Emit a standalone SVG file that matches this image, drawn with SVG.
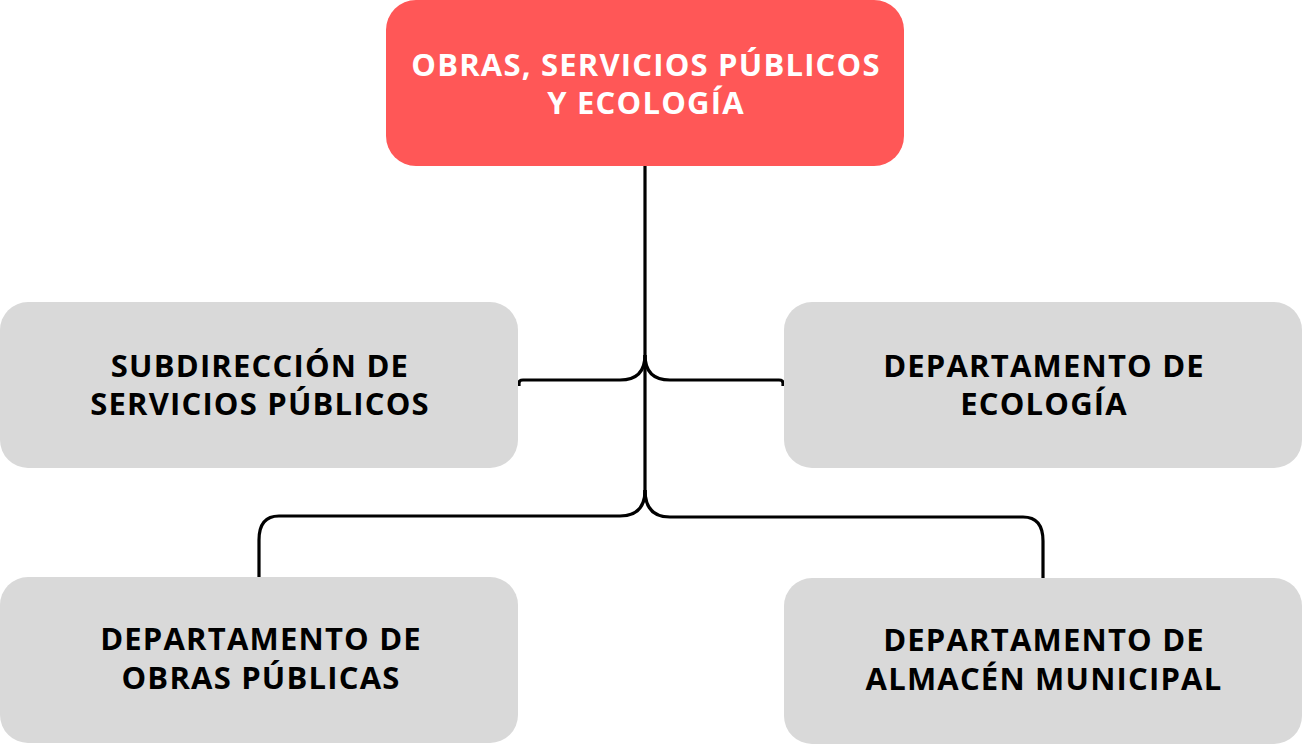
<svg xmlns="http://www.w3.org/2000/svg" width="1302" height="745" viewBox="0 0 1302 745">
<style>
.box{fill:#d9d9d9}
.top{fill:#ff5757}
.t{font-family:"Open Sans","Liberation Sans",sans-serif;font-weight:700;font-size:31px;letter-spacing:1.2px;text-anchor:middle;fill:#000}
.tw{fill:#fff}
.c{fill:none;stroke:#000;stroke-width:3.2;stroke-linecap:butt;stroke-linejoin:round}
</style>
<rect width="1302" height="745" fill="#fff"/>
<g id="connectors">
<path class="c" d="M645 166 V500"/>
<path class="c" d="M519 386 V383 Q519 380 523 380 H620 Q645 380 645 355"/>
<path class="c" d="M783 386 V383 Q783 380 779 380 H670 Q645 380 645 355"/>
<path class="c" d="M645 490 Q645 516 620 516 H279 Q259 516 259 540 V577"/>
<path class="c" d="M645 490 Q645 517 670 517 H1023 Q1043 517 1043 541 V578"/>
</g>
<g id="n-top">
<rect class="top" x="386" y="0" width="518" height="166" rx="30"/>
<text class="t tw" x="646" y="76">OBRAS, SERVICIOS PÚBLICOS</text>
<text class="t tw" x="646" y="114">Y ECOLOGÍA</text>
</g>
<g id="n-subdireccion">
<rect class="box" x="0" y="302" width="518" height="166" rx="28"/>
<text class="t" x="260" y="377">SUBDIRECCIÓN DE</text>
<text class="t" x="260" y="415">SERVICIOS PÚBLICOS</text>
</g>
<g id="n-ecologia">
<rect class="box" x="784" y="302" width="518" height="166" rx="28"/>
<text class="t" x="1044" y="377">DEPARTAMENTO DE</text>
<text class="t" x="1044" y="415">ECOLOGÍA</text>
</g>
<g id="n-obras">
<rect class="box" x="0" y="577" width="518" height="166" rx="28"/>
<text class="t" x="261" y="650">DEPARTAMENTO DE</text>
<text class="t" x="261" y="689">OBRAS PÚBLICAS</text>
</g>
<g id="n-almacen">
<rect class="box" x="784" y="578" width="518" height="166" rx="28"/>
<text class="t" x="1044" y="651">DEPARTAMENTO DE</text>
<text class="t" x="1044" y="690">ALMACÉN MUNICIPAL</text>
</g>
</svg>
